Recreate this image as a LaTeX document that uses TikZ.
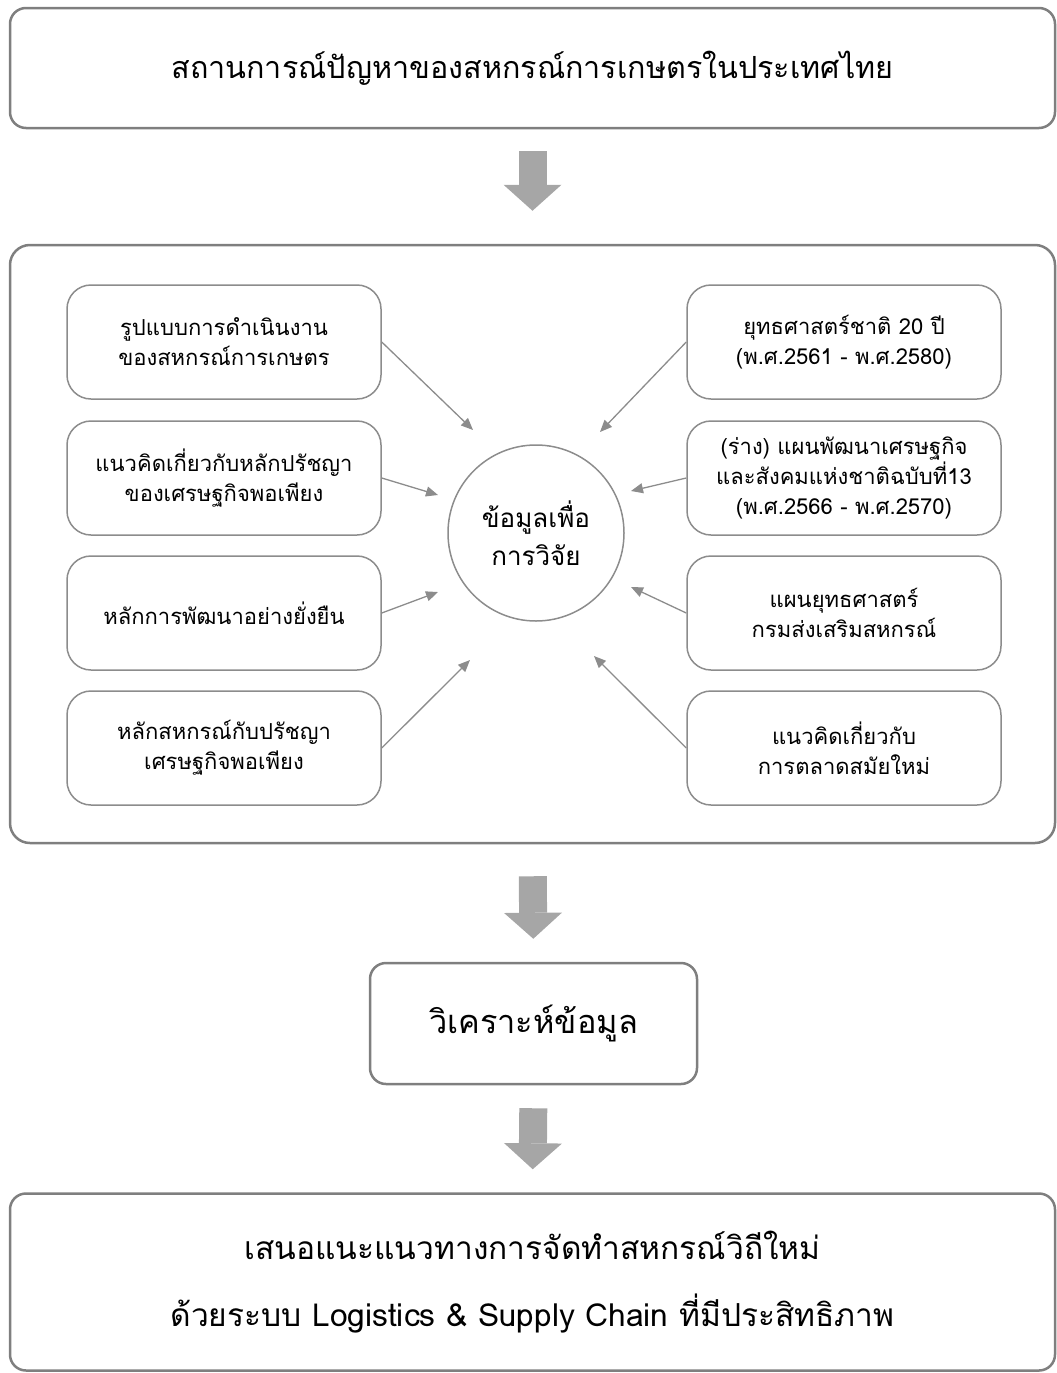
\documentclass[tikz,border=0pt]{standalone}
\usepackage{fontspec}
\setmainfont[Script=Thai]{Loma}
\usetikzlibrary{arrows.meta}
\definecolor{boxgray}{HTML}{7F7F7F}
\definecolor{arrgray}{HTML}{A6A6A6}
\definecolor{lingray}{HTML}{8C8C8C}
\tikzset{
  bigbox/.style={draw=boxgray, line width=2.5pt, rounded corners=16pt, inner sep=0pt, align=center},
  smallbox/.style={draw=lingray, line width=1.5pt, rounded corners=24pt, minimum width=314pt, minimum height=114pt, align=center, inner sep=0pt, font=\fontsize{22}{30}\selectfont},
  hub/.style={circle, draw=lingray, line width=1.5pt, minimum size=176pt, inner sep=0pt, align=center, font=\fontsize{26}{38}\selectfont},
  thin/.style={draw=lingray, line width=1.3pt, -{Triangle[length=12pt,width=10pt]}},
  blockarrow/.style={draw=arrgray, line width=28pt, -{Triangle[length=26pt,width=58pt,line width=0pt]}}
}
\begin{document}
\begin{tikzpicture}[x=1pt,y=-1pt]
\useasboundingbox (0,0) rectangle (1057,1373);
% top box
\node[bigbox, minimum width=1045pt, minimum height=120pt, font=\fontsize{30.5}{36}\selectfont] (top) at (532.5,68) {สถานการณ์ปัญหาของสหกรณ์การเกษตรในประเทศไทย};
% middle container
\node[bigbox, rounded corners=20pt, minimum width=1045pt, minimum height=598pt] (mid) at (532.5,544) {};
% hub
\node[hub] (hub) at (536,533) {ข้อมูลเพื่อ\\การวิจัย};
% left boxes
\node[smallbox] (l1) at (224,342) {รูปแบบการดำเนินงาน\\ของสหกรณ์การเกษตร};
\node[smallbox] (l2) at (224,478) {แนวคิดเกี่ยวกับหลักปรัชญา\\ของเศรษฐกิจพอเพียง};
\node[smallbox] (l3) at (224,613) {หลักการพัฒนาอย่างยั่งยืน};
\node[smallbox] (l4) at (224,748) {หลักสหกรณ์กับปรัชญา\\เศรษฐกิจพอเพียง};
% right boxes
\node[smallbox] (r1) at (844,342) {ยุทธศาสตร์ชาติ 20 ปี\\(พ.ศ.2561 - พ.ศ.2580)};
\node[smallbox] (r2) at (844,478) {(ร่าง) แผนพัฒนาเศรษฐกิจ\\และสังคมแห่งชาติฉบับที่13\\(พ.ศ.2566 - พ.ศ.2570)};
\node[smallbox] (r3) at (844,613) {แผนยุทธศาสตร์\\กรมส่งเสริมสหกรณ์};
\node[smallbox] (r4) at (844,748) {แนวคิดเกี่ยวกับ\\การตลาดสมัยใหม่};
% arrow tips near hub
\coordinate (tl1) at (473,430);
\coordinate (tl2) at (438,495);
\coordinate (tl3) at (438,592);
\coordinate (tl4) at (470,660);
\coordinate (tr1) at (600,432);
\coordinate (tr2) at (631,491);
\coordinate (tr3) at (631,587);
\coordinate (tr4) at (594,656);
\draw[thin] (l1.east) -- (tl1);
\draw[thin] (l2.east) -- (tl2);
\draw[thin] (l3.east) -- (tl3);
\draw[thin] (l4.east) -- (tl4);
\draw[thin] (r1.west) -- (tr1);
\draw[thin] (r2.west) -- (tr2);
\draw[thin] (r3.west) -- (tr3);
\draw[thin] (r4.west) -- (tr4);
% analysis
\node[bigbox, minimum width=327pt, minimum height=121pt, font=\fontsize{32.5}{36}\selectfont] (ana) at (533.5,1023.5) {วิเคราะห์ข้อมูล};
% bottom
\node[bigbox, minimum width=1045pt, minimum height=177pt, font=\fontsize{31.7}{67}\selectfont] (bot) at (532.5,1282) {เสนอแนะแนวทางการจัดทำสหกรณ์วิถีใหม่\\ด้วยระบบ Logistics \& Supply Chain ที่มีประสิทธิภาพ};
% block arrows
\draw[blockarrow, shorten <=22pt, shorten >=33pt] (top.south) -- (mid.north);
\draw[blockarrow, shorten <=32pt, shorten >=23pt] (mid.south) -- (ana.north);
\draw[blockarrow, shorten <=23pt, shorten >=23pt] (ana.south) -- (bot.north);
\end{tikzpicture}
\end{document}
